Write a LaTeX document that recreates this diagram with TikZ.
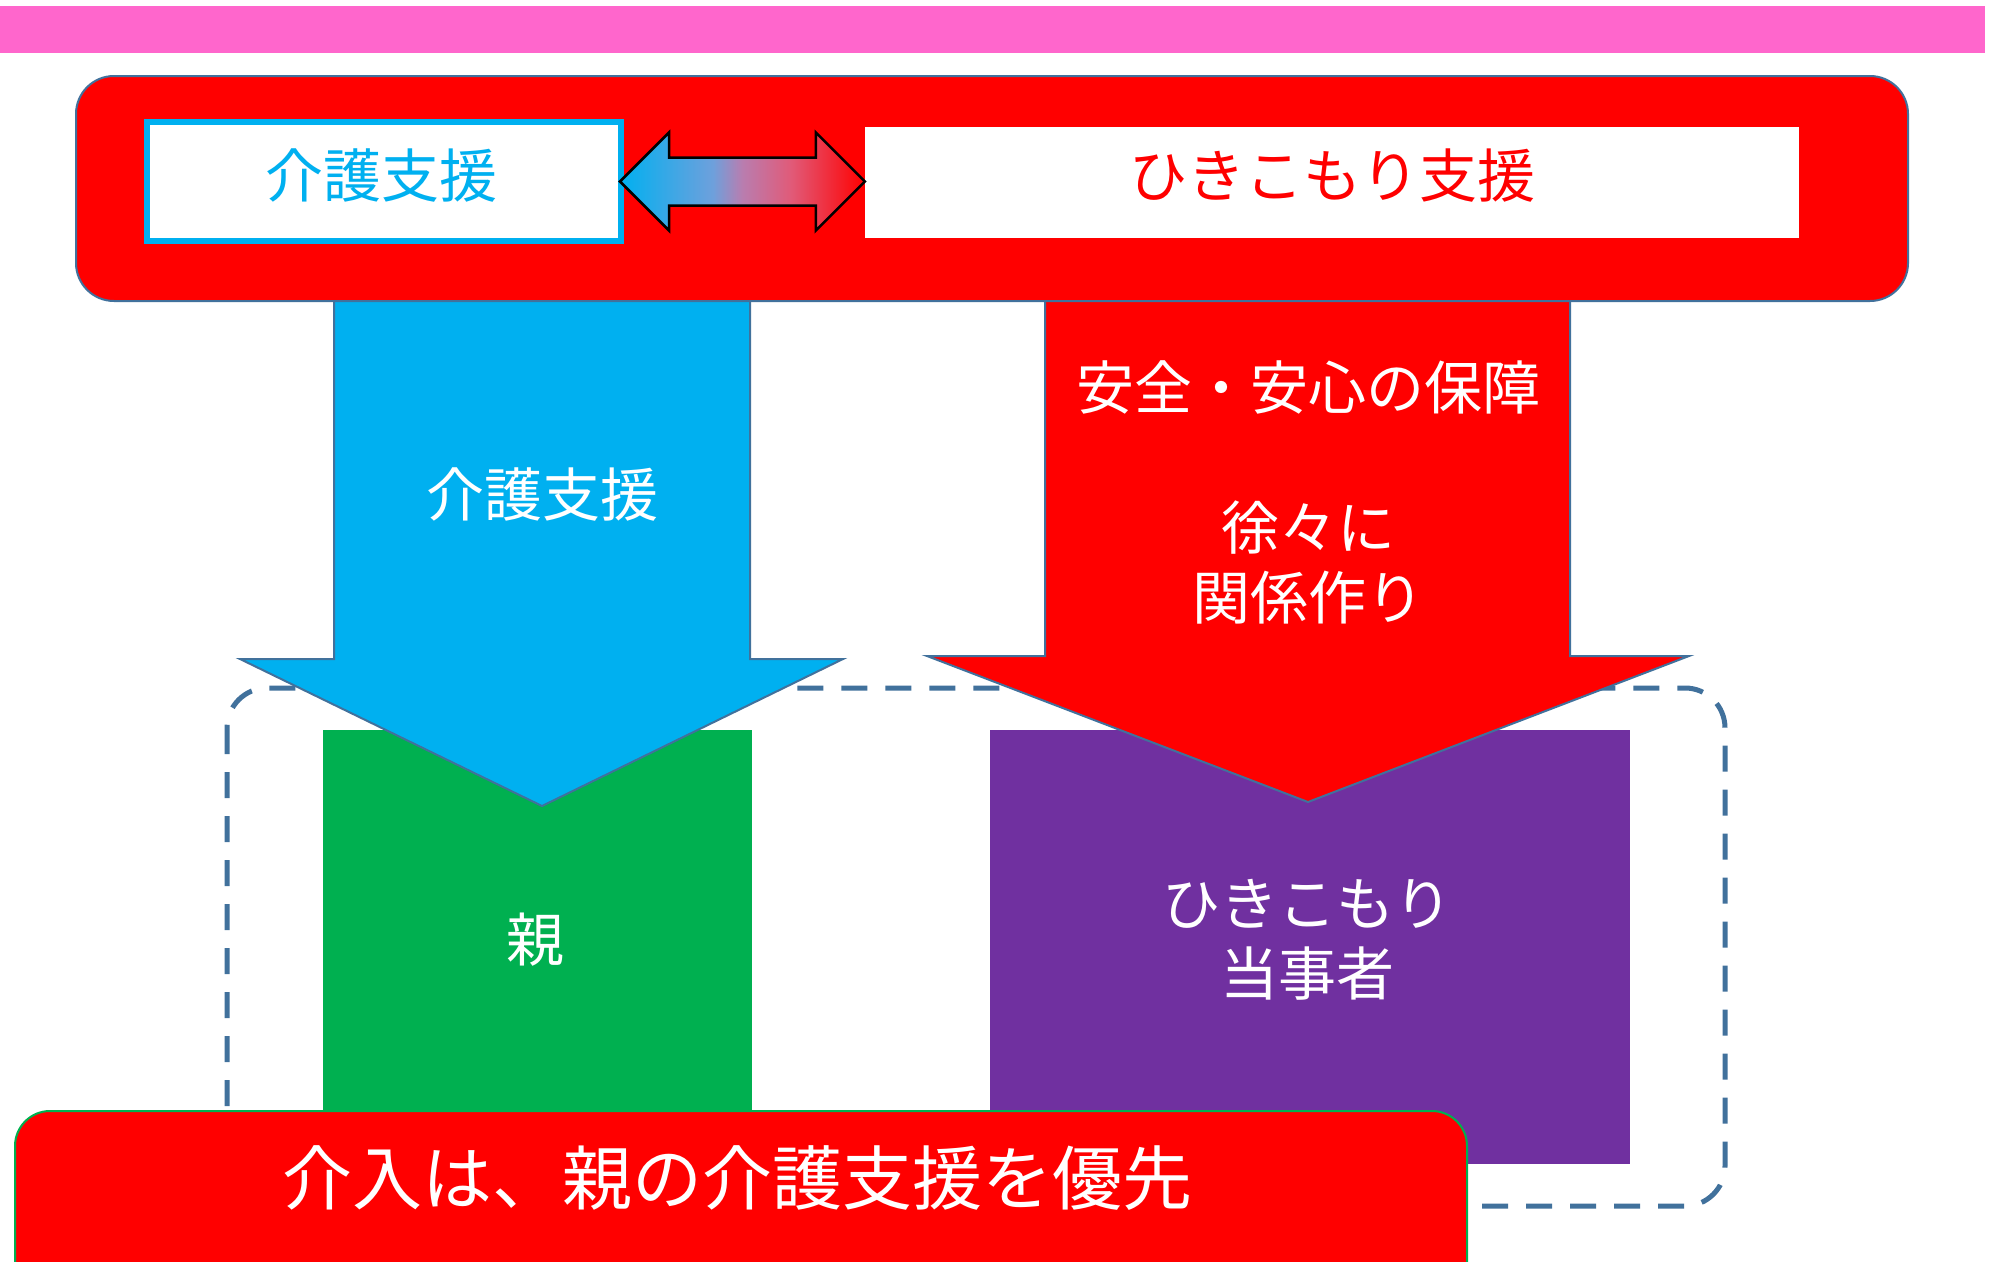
\documentclass[tikz,border=0pt]{standalone}
\usepackage{fontspec}
\newfontfamily\jp{Noto Sans CJK JP}
\usetikzlibrary{calc}
\definecolor{pinkbar}{RGB}{255,102,204}
\definecolor{cyanA}{RGB}{0,176,240}
\definecolor{edgeblue}{RGB}{65,113,156}
\definecolor{greenA}{RGB}{0,176,80}
\definecolor{purpleA}{RGB}{112,48,160}
\definecolor{scb}{RGB}{110,160,220}
\definecolor{scc}{RGB}{185,125,175}
\definecolor{scd}{RGB}{225,90,120}
\pgfdeclarehorizontalshading{dblarr}{100bp}{color(0bp)=(cyanA); color(25bp)=(cyanA); color(44bp)=(scb); color(50bp)=(scc); color(60bp)=(scd); color(75bp)=(red); color(100bp)=(red)}
\tikzset{
  jptext/.style={font=\jp\fontsize{58}{70}\selectfont, inner sep=0pt, align=center},
  wtext/.style={jptext, text=white},
  bigtext/.style={font=\jp\fontsize{70}{84}\selectfont, inner sep=0pt, text=white},
  bigarrow/.style={draw=edgeblue, line width=2pt, line join=miter},
  dashframe/.style={draw=edgeblue, line width=5pt, dash pattern=on 26pt off 18pt, rounded corners=40pt},
  toprect/.style={draw=edgeblue, line width=2pt, fill=red, rounded corners=38pt, minimum width=1832pt, minimum height=225pt, inner sep=0pt},
  plainbox/.style={minimum width=#1, inner sep=0pt, minimum height=434pt},
  kaigobox/.style={draw=cyanA, line width=6pt, fill=white, minimum width=474pt, minimum height=119pt, inner sep=0pt},
  hikibox/.style={fill=white, minimum width=934pt, minimum height=111pt, inner sep=0pt},
  dblarrow/.style={draw=black, line width=2.5pt, shading=dblarr, line join=miter},
  botbox/.style={draw=greenA, line width=2pt, fill=red, rounded corners=35pt, minimum width=1452pt, minimum height=200pt, inner sep=0pt}
}
\begin{document}
\begin{tikzpicture}[x=1pt,y=-1pt]
\useasboundingbox (0,0) rectangle (1991,1261);
\clip (0,0) rectangle (1991,1261);
\fill[white] (0,0) rectangle (1991,1261);
% pink title bar
\fill[pinkbar] (0,6) rectangle (1985,53);
% dashed frame
\draw[dashframe] (227,688) rectangle (1725,1206);
% target boxes
\node[plainbox=429pt, fill=greenA] (oya) at (537.5,947) {};
\node[plainbox=640pt, fill=purpleA] (tojisha) at (1310,947) {};
\node[wtext] (oyatext) at ([shift={(-2,-7)}]oya.center) {親};
\node[wtext] (tojishatext) at ([shift={(-3,-7)}]tojisha.center) {ひきこもり\\当事者};
% big arrows
\draw[bigarrow, fill=cyanA] (334,290) -- (334,659) -- (240,659) -- (542,806) -- (843,659) -- (750,659) -- (750,290) -- cycle;
\draw[bigarrow, fill=red] (1045,290) -- (1045,656) -- (927,656) -- (1308,802) -- (1689,656) -- (1570,656) -- (1570,290) -- cycle;
\node[wtext] (kaigoarrowtext) at (542,495) {介護支援};
\node[wtext] (hikiarrowtext) at (1308,492) {安全・安心の保障\\[70pt]徐々に\\関係作り};
% top container
\node[toprect] (top) at (992,188.5) {};
\node[kaigobox] (kaigo) at (384,181.5) {};
\node[hikibox] (hiki) at (1332,182) {};
\node[jptext, text=cyanA] (kaigotext) at ([shift={(-3,-6)}]kaigo.center) {介護支援};
\node[jptext, text=red] (hikitext) at ([shift={(0,-6)}]hiki.center) {ひきこもり支援};
% double arrow
\coordinate (L) at ([shift={(-4,0)}]kaigo.east);
\coordinate (R) at (L -| hiki.west);
\draw[dblarrow] (L) -- ([shift={(49,-49)}]L) -- ([shift={(49,-24)}]L) -- ([shift={(-49,-24)}]R) -- ([shift={(-49,-49)}]R) -- (R) -- ([shift={(-49,49)}]R) -- ([shift={(-49,24)}]R) -- ([shift={(49,24)}]L) -- ([shift={(49,49)}]L) -- cycle;
% bottom banner
\node[botbox] (prio) at (741,1211) {};
\node[bigtext] (priotext) at (737,1178) {介入は、親の介護支援を優先};
\end{tikzpicture}
\end{document}
